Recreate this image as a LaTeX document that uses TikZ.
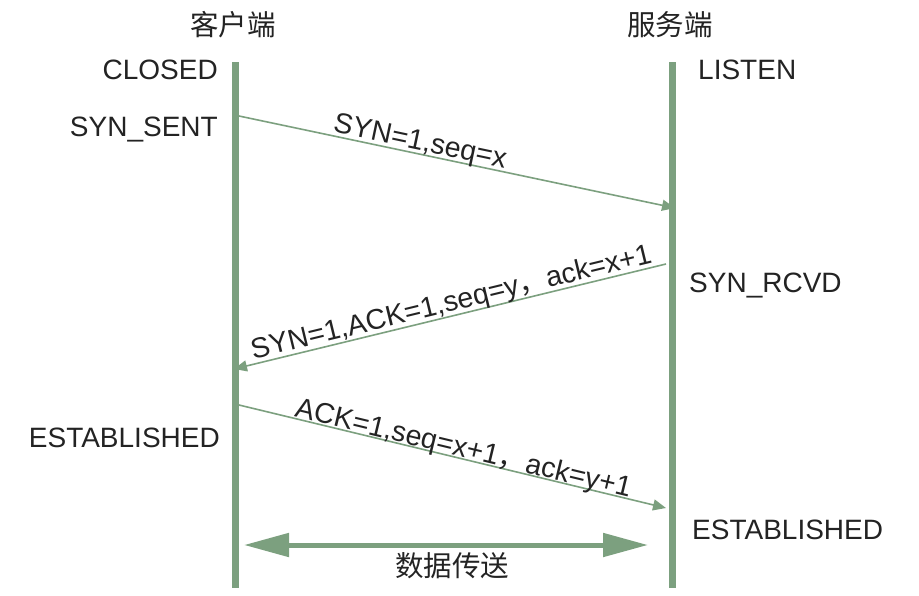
\documentclass[tikz,border=0pt]{standalone}
\usepackage{fontspec}
\setmainfont{Liberation Sans}
\newfontfamily\cjk{Noto Sans CJK SC}
\usetikzlibrary{arrows.meta}
\definecolor{lifegreen}{RGB}{124,160,127}
\definecolor{txtgray}{RGB}{35,35,35}
\tikzset{
  lifeline/.style={draw=lifegreen, line width=7pt},
  msg/.style={draw=lifegreen, line width=1.6pt, -{Triangle[length=13pt,width=11pt]}},
  datamsg/.style={draw=lifegreen, line width=5pt, {Triangle[length=45pt,width=23pt]}-{Triangle[length=45pt,width=23pt]}},
  statelbl/.style={text=txtgray, font=\fontsize{28}{32}\selectfont, inner sep=0pt},
  headlbl/.style={text=txtgray, font=\cjk\fontsize{28.5}{32}\selectfont, inner sep=0pt},
  msglbl/.style={text=txtgray, font=\fontsize{28.5}{32}\selectfont, inner sep=0pt, sloped}
}
\begin{document}
\begin{tikzpicture}[x=1pt,y=-1pt]
\useasboundingbox (0,0) rectangle (919,595);
% lifelines
\coordinate (ctop) at (235,62);
\coordinate (cbot) at (235,588);
\coordinate (stop) at (672,62);
\coordinate (sbot) at (672,588);
\draw[lifeline] (ctop) -- (cbot);
\draw[lifeline] (stop) -- (sbot);
% headings
\node[headlbl] (client) at (233,25) {客户端};
\node[headlbl] (server) at (670,25) {服务端};
% states
\node[statelbl, anchor=east] (closed) at (218,70) {CLOSED};
\node[statelbl, anchor=west] (listen) at (698,70) {LISTEN};
\node[statelbl, anchor=east] (synsent) at (218,130) {SYN\_SENT};
\node[statelbl, anchor=west] (synrcvd) at (689,286) {SYN\_RCVD};
\node[statelbl, anchor=east] (estc) at (220,438) {ESTABLISHED};
\node[statelbl, anchor=west] (ests) at (692,530) {ESTABLISHED};
% message endpoints
\coordinate (m1a) at (239,116);
\coordinate (m1b) at (675,208);
\coordinate (m2a) at (666,264);
\coordinate (m2b) at (234,369);
\coordinate (m3a) at (239,405);
\coordinate (m3b) at (666,508);
\coordinate (d1) at (244,545);
\coordinate (d2) at (648,545);
% messages
\draw[msg] (m1a) -- node[msglbl, pos=0.41, anchor=south, yshift=-3pt] (l1) {SYN=1,seq=x} (m1b);
\draw[msg] (m2a) -- node[msglbl, pos=0.49, anchor=south, yshift=-2pt] (l2) {SYN=1,ACK=1,seq=y{\cjk ，}ack=x+1} (m2b);
\draw[msg] (m3a) -- node[msglbl, pos=0.52, anchor=south, yshift=-5pt] (l3) {ACK=1,seq=x+1{\cjk ，}ack=y+1} (m3b);
\draw[datamsg] (d1) -- (d2);
\node[headlbl] (data) at (452,566) {数据传送};
\end{tikzpicture}
\end{document}
